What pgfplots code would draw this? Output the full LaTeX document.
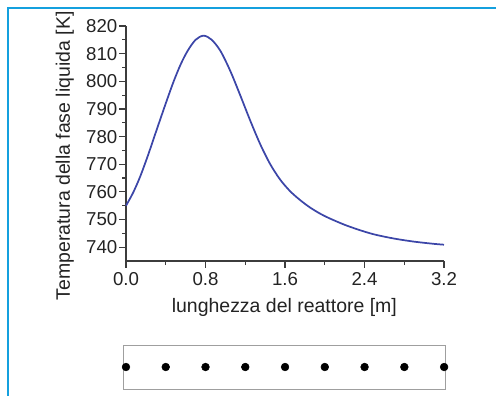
\documentclass[border=0pt]{standalone}
\usepackage{fontspec}
\setmainfont{Liberation Sans}
\usepackage{pgfplots}
\pgfplotsset{compat=1.18}
\definecolor{frameblue}{RGB}{20,160,222}
\definecolor{curveblue}{RGB}{60,70,168}
\definecolor{axgrey}{RGB}{60,60,60}
\definecolor{txtgrey}{RGB}{35,35,35}
\begin{document}
\begin{tikzpicture}
\path[use as bounding box] (0,0) rectangle (372pt,-297pt);
\draw[frameblue, line width=1.5pt] (6pt,-297pt) -- (6pt,-6pt) -- (372pt,-6pt);
\begin{axis}[
  at={(94.5pt,-195.75pt)}, anchor=south west,
  scale only axis, width=238.5pt, height=176.25pt,
  xmin=0, xmax=3.2, ymin=735, ymax=820,
  axis x line*=bottom, axis y line*=left,
  axis line style={axgrey, line width=1pt, -},
  xtick={0,0.8,...,3.2}, minor xtick={0.4,1.2,2.0,2.8},
  ytick={740,750,...,820}, minor ytick={745,755,...,815},
  tick align=outside,
  major tick length=5pt, minor tick length=3pt,
  tick style={axgrey, line width=0.9pt},
  xticklabel style={/pgf/number format/.cd, fixed, fixed zerofill, precision=1},
  /pgf/number format/assume math mode=true,
  ticklabel style={font=\fontsize{14}{16}\selectfont, text=txtgrey},
  yticklabel style={xshift=2pt},
  xlabel={lunghezza del reattore [m]},
  ylabel={Temperatura della fase liquida [K]},
  label style={font=\fontsize{14.6}{16}\selectfont, text=txtgrey},
  xlabel style={at={(axis description cs:0.498,-0.196)}, anchor=center},
  ylabel style={at={(axis description cs:-0.192,0.447)}, anchor=center},
  clip=false,
]
\addplot[curveblue, line width=1.3pt, smooth, tension=0.5] coordinates {
(0.00,755.0) (0.07,759.6) (0.14,765.3) (0.22,773.1) (0.31,782.6) (0.40,792.0)
(0.48,800.0) (0.55,806.1) (0.62,811.0) (0.70,815.0) (0.78,816.5) (0.86,815.1)
(0.95,811.0) (1.05,803.7) (1.15,794.9) (1.25,785.8) (1.35,777.3) (1.45,770.1)
(1.55,764.5) (1.65,760.3) (1.75,757.1) (1.85,754.4) (1.95,752.2) (2.05,750.4)
(2.20,748.1) (2.35,746.2) (2.50,744.6) (2.70,743.1) (2.90,742.0) (3.10,741.2)
(3.20,740.9)
};
\end{axis}
\begin{axis}[
  at={(92.25pt,-291.75pt)}, anchor=south west,
  scale only axis, width=241.95pt, height=33pt,
  xmin=-0.03, xmax=3.215, ymin=-1, ymax=1,
  axis line style={draw=gray!75, line width=0.7pt},
  xtick=\empty, ytick=\empty,
  clip=false,
]
\addplot[only marks, mark=*, mark size=2.9pt, black] coordinates {
(0,0) (0.4,0) (0.8,0) (1.2,0) (1.6,0) (2.0,0) (2.4,0) (2.8,0) (3.2,0)
};
\end{axis}
\end{tikzpicture}
\end{document}
